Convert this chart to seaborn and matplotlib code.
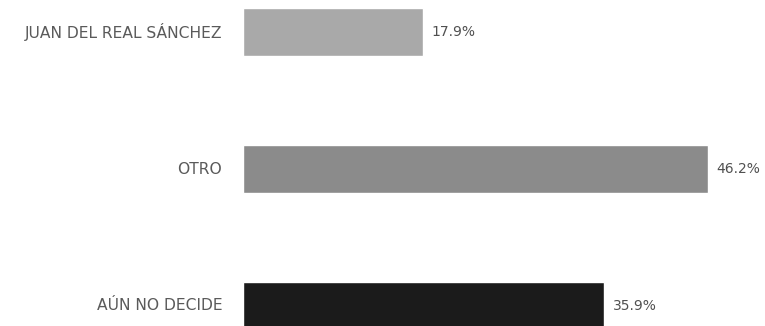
import matplotlib
matplotlib.use("Agg")
import matplotlib.pyplot as plt
import seaborn as sns
import pandas as pd

categories = ["JUAN DEL REAL SÁNCHEZ", "OTRO", "AÚN NO DECIDE"]
values = [17.9, 46.2, 35.9]
value_labels = ["17.9%", "46.2%", "35.9%"]
colors = ["#a9a9a9", "#8b8b8b", "#1b1b1b"]

sns.set_theme(style="white")
plt.rcParams['font.family'] = ['DejaVu Sans']

df = pd.DataFrame({"cat": categories, "val": values})

W, H = 765, 326
fig = plt.figure(figsize=(W / 100, H / 100), dpi=100)
ax = fig.add_axes([243 / W, 0, 1 - 243 / W, 1])

sns.barplot(data=df, y="cat", x="val", hue="cat", palette=colors, orient="h",
            width=0.35, legend=False, ax=ax, saturation=1)

pxu = 137.0
ax.set_ylim(2 + (H - 306) / pxu, -32 / pxu)
ax.set_xlim(0, (W - 243) / 10.06)

for i, (v, lab) in enumerate(zip(values, value_labels)):
    ax.annotate(lab, xy=(v, i), xytext=(6, 0), textcoords="offset points",
                va="center", ha="left", fontsize=10, color="#505050")

for i, c in enumerate(categories):
    ax.annotate(c, xy=(0, i), xytext=(-15, 0), textcoords="offset points",
                va="center", ha="right", fontsize=11.2, color="#5a5a5a",
                annotation_clip=False)

ax.set_yticks([])
ax.set_xticks([])
ax.set_xlabel("")
ax.set_ylabel("")
for s in ax.spines.values():
    s.set_visible(False)

fig.savefig("out.png", dpi=100)
